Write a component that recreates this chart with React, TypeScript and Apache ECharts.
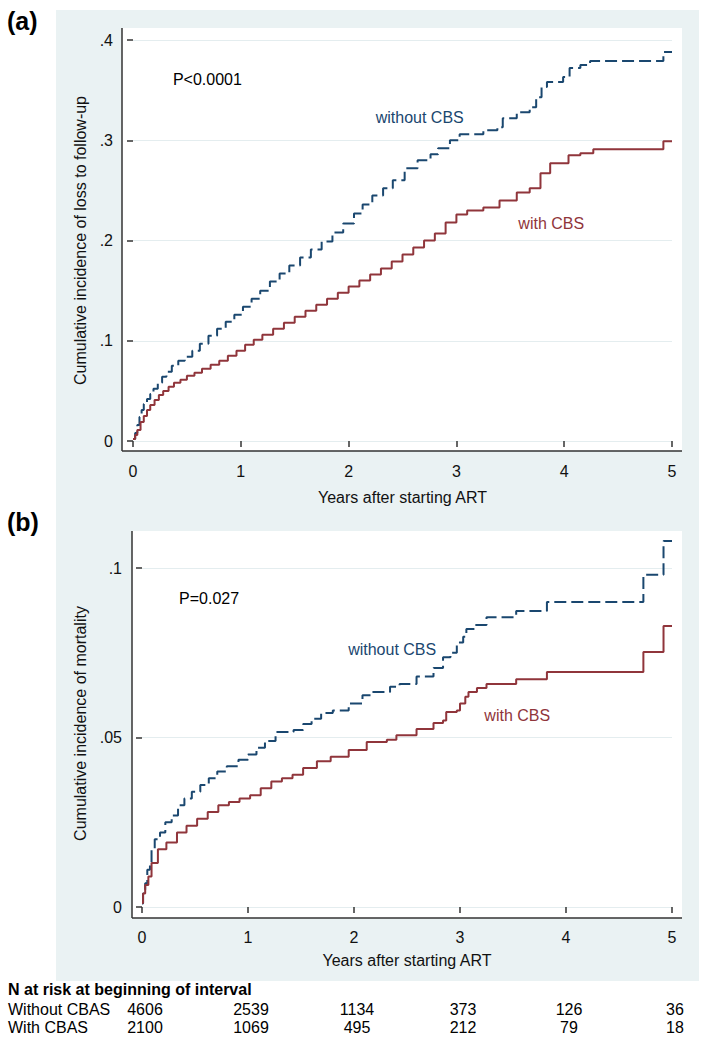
import React, { useEffect, useRef } from 'react';
import * as echarts from 'echarts';

// ---------- data ----------
const xTicks = [0, 1, 2, 3, 4, 5];
const xTickLabels = ['0', '1', '2', '3', '4', '5'];
const yTickLabelsA = ['0', '.1', '.2', '.3', '.4'];
const yTickLabelsB = ['0', '.05', '.1'];

// (a) loss to follow-up
const timeAWithout = [0, 0.02, 0.04, 0.06, 0.08, 0.1, 0.13, 0.16, 0.19, 0.23, 0.27, 0.31, 0.36, 0.42, 0.48, 0.55, 0.62, 0.7, 0.78, 0.86, 0.94, 1.02, 1.1, 1.18, 1.27, 1.36, 1.45, 1.55, 1.65, 1.75, 1.85, 1.95, 2.05, 2.13, 2.22, 2.32, 2.41, 2.52, 2.64, 2.76, 2.83, 2.94, 3.03, 3.25, 3.38, 3.43, 3.56, 3.68, 3.74, 3.79, 3.84, 3.99, 4.05, 4.15, 4.24, 4.92, 5.0];
const incAWithout = [0.002, 0.008, 0.016, 0.024, 0.031, 0.037, 0.042, 0.047, 0.052, 0.058, 0.064, 0.069, 0.075, 0.08, 0.084, 0.09, 0.097, 0.105, 0.112, 0.119, 0.126, 0.134, 0.142, 0.15, 0.159, 0.167, 0.175, 0.183, 0.191, 0.199, 0.208, 0.217, 0.227, 0.236, 0.245, 0.252, 0.26, 0.272, 0.28, 0.286, 0.292, 0.3, 0.306, 0.31, 0.313, 0.322, 0.328, 0.333, 0.343, 0.353, 0.358, 0.363, 0.372, 0.375, 0.379, 0.388, 0.388];
const timeAWith = [0, 0.02, 0.04, 0.07, 0.1, 0.13, 0.16, 0.2, 0.24, 0.28, 0.33, 0.38, 0.44, 0.5, 0.57, 0.64, 0.72, 0.8, 0.88, 0.96, 1.04, 1.12, 1.2, 1.3, 1.4, 1.5, 1.6, 1.7, 1.8, 1.9, 2.0, 2.1, 2.2, 2.3, 2.4, 2.5, 2.6, 2.7, 2.8, 2.9, 3.0, 3.1, 3.25, 3.4, 3.56, 3.68, 3.78, 3.87, 4.04, 4.15, 4.27, 4.92, 5.0];
const incAWith = [0.002, 0.006, 0.011, 0.019, 0.025, 0.031, 0.036, 0.041, 0.046, 0.05, 0.054, 0.058, 0.061, 0.065, 0.068, 0.072, 0.076, 0.08, 0.085, 0.09, 0.096, 0.101, 0.106, 0.112, 0.118, 0.124, 0.13, 0.136, 0.142, 0.148, 0.154, 0.16, 0.166, 0.172, 0.179, 0.186, 0.193, 0.2, 0.207, 0.218, 0.226, 0.23, 0.233, 0.24, 0.248, 0.252, 0.267, 0.277, 0.285, 0.287, 0.291, 0.299, 0.299];

// (b) mortality
const timeBWithout = [0, 0.01, 0.03, 0.05, 0.075, 0.09, 0.12, 0.17, 0.22, 0.28, 0.34, 0.4, 0.47, 0.55, 0.63, 0.71, 0.8, 0.91, 1.0, 1.08, 1.16, 1.26, 1.43, 1.52, 1.6, 1.69, 1.8, 1.95, 2.08, 2.17, 2.34, 2.43, 2.59, 2.75, 2.84, 2.91, 2.97, 3.03, 3.06, 3.14, 3.25, 3.53, 3.82, 4.73, 4.92, 5.0];
const incBWithout = [0.001, 0.004, 0.007, 0.011, 0.013, 0.0168, 0.02, 0.022, 0.025, 0.027, 0.03, 0.032, 0.034, 0.036, 0.038, 0.04, 0.0415, 0.0434, 0.045, 0.047, 0.049, 0.0516, 0.0522, 0.054, 0.0555, 0.0572, 0.058, 0.06, 0.0625, 0.0634, 0.065, 0.0658, 0.068, 0.0705, 0.0737, 0.075, 0.078, 0.0797, 0.082, 0.0832, 0.0855, 0.0873, 0.09, 0.098, 0.108, 0.108];
const timeBWith = [0, 0.01, 0.03, 0.06, 0.09, 0.15, 0.23, 0.33, 0.42, 0.52, 0.62, 0.72, 0.82, 0.92, 1.02, 1.12, 1.22, 1.32, 1.42, 1.52, 1.65, 1.78, 1.95, 2.12, 2.31, 2.4, 2.59, 2.75, 2.84, 2.87, 2.97, 3.0, 3.05, 3.08, 3.16, 3.25, 3.53, 3.82, 4.73, 4.92, 5.0];
const incBWith = [0.0012, 0.004, 0.0065, 0.009, 0.013, 0.017, 0.019, 0.022, 0.024, 0.026, 0.028, 0.03, 0.031, 0.032, 0.033, 0.035, 0.037, 0.038, 0.039, 0.041, 0.043, 0.0443, 0.0463, 0.0487, 0.0493, 0.0507, 0.0525, 0.0543, 0.055, 0.0575, 0.058, 0.06, 0.062, 0.0634, 0.0646, 0.0658, 0.0672, 0.0693, 0.0752, 0.0829, 0.0829];

// annotations [x, y] in data units
const annotA = [
  { text: 'P<0.0001', at: [0.37, 0.361], color: '#000000', align: 'left' },
  { text: 'without CBS', at: [2.66, 0.323], color: '#1a476f', align: 'center' },
  { text: 'with CBS', at: [3.88, 0.217], color: '#90353b', align: 'center' },
];
const annotB = [
  { text: 'P=0.027', at: [0.35, 0.0911], color: '#000000', align: 'left' },
  { text: 'without CBS', at: [2.36, 0.0761], color: '#1a476f', align: 'center' },
  { text: 'with CBS', at: [3.54, 0.0566], color: '#90353b', align: 'center' },
];

// risk table
const riskTitle = 'N at risk at beginning of interval';
const riskRowLabels = ['Without CBAS', 'With CBAS'];
const riskWithout = [4606, 2539, 1134, 373, 126, 36];
const riskWith = [2100, 1069, 495, 212, 79, 18];

// ---------- styles ----------
const FONT = "'Liberation Sans', Arial, Helvetica, sans-serif";
const NAVY = '#1a476f';
const MAROON = '#90353b';
const BG = '#eaf2f3';
const AXIS = '#333333';
const TXT = '#111111';

const zip = (xs: number[], ys: number[]) => xs.map((x, i) => [x, ys[i]]);

export default function App() {
  const ref = useRef<HTMLDivElement>(null);

  useEffect(() => {
    if (!ref.current) return;
    const chart = echarts.init(ref.current, undefined, { renderer: 'svg' });

    const tickLabel = { fontSize: 16, color: TXT, fontFamily: FONT };
    const nameStyle = { fontSize: 16, color: TXT, fontFamily: FONT };
    const tick = { show: true, length: 6, lineStyle: { color: AXIS, width: 1.5 } };
    const split = { show: true, lineStyle: { color: '#e4edef', width: 1 } };

    const baseGraphics: any[] = [
      { type: 'rect', z: 0, shape: { x: 56, y: 10, width: 643, height: 971 }, style: { fill: BG } },
      { type: 'rect', z: 1, shape: { x: 122, y: 28, width: 560, height: 423 }, style: { fill: '#ffffff' } },
      { type: 'rect', z: 1, shape: { x: 132, y: 531, width: 550, height: 387 }, style: { fill: '#ffffff' } },
      { type: 'line', z: 5, shape: { x1: 122, y1: 28, x2: 122, y2: 451 }, style: { stroke: AXIS, lineWidth: 1.5 } },
      { type: 'line', z: 5, shape: { x1: 122, y1: 451, x2: 682, y2: 451 }, style: { stroke: AXIS, lineWidth: 1.5 } },
      { type: 'line', z: 5, shape: { x1: 132, y1: 531, x2: 132, y2: 918 }, style: { stroke: AXIS, lineWidth: 1.5 } },
      { type: 'line', z: 5, shape: { x1: 132, y1: 918, x2: 682, y2: 918 }, style: { stroke: AXIS, lineWidth: 1.5 } },
      { type: 'text', z: 10, left: 7, top: 8, style: { text: '(a)', font: `bold 25px ${FONT}`, fill: '#000' } },
      { type: 'text', z: 10, left: 7, top: 509, style: { text: '(b)', font: `bold 25px ${FONT}`, fill: '#000' } },
    ];

    const option: any = {
      animation: false,
      backgroundColor: '#ffffff',
      grid: [
        { left: 133, right: 37, top: 40, height: 401 },
        { left: 142, right: 37, top: 568, height: 339 },
      ],
      xAxis: [
        {
          gridIndex: 0, type: 'value', min: 0, max: 5, interval: 1, offset: 10, z: 3,
          axisLine: { show: false }, axisTick: tick, splitLine: { show: false },
          axisLabel: { ...tickLabel, margin: 12, formatter: (v: number) => xTickLabels[Math.round(v)] ?? '' },
          name: 'Years after starting ART', nameLocation: 'middle', nameGap: 38, nameTextStyle: nameStyle,
        },
        {
          gridIndex: 1, type: 'value', min: 0, max: 5, interval: 1, offset: 11, z: 3,
          axisLine: { show: false }, axisTick: tick, splitLine: { show: false },
          axisLabel: { ...tickLabel, margin: 11, formatter: (v: number) => xTickLabels[Math.round(v)] ?? '' },
          name: 'Years after starting ART', nameLocation: 'middle', nameGap: 34, nameTextStyle: nameStyle,
        },
      ],
      yAxis: [
        {
          gridIndex: 0, type: 'value', min: 0, max: 0.4, interval: 0.1, offset: 11, z: 3,
          axisLine: { show: false }, axisTick: tick, splitLine: split,
          axisLabel: { ...tickLabel, margin: 9, formatter: (v: number) => yTickLabelsA[Math.round(v / 0.1)] ?? '' },
          name: 'Cumulative incidence of loss to follow-up', nameLocation: 'middle', nameGap: 30, nameTextStyle: nameStyle,
        },
        {
          gridIndex: 1, type: 'value', min: 0, max: 0.1, interval: 0.05, offset: 10, z: 3,
          axisLine: { show: false }, axisTick: tick, splitLine: split,
          axisLabel: { ...tickLabel, margin: 10, formatter: (v: number) => yTickLabelsB[Math.round(v / 0.05)] ?? '' },
          name: 'Cumulative incidence of mortality', nameLocation: 'middle', nameGap: 38,
          nameTextStyle: { ...nameStyle, padding: [0, 0, 0, 28] },
        },
      ],
      series: [
        { type: 'line', xAxisIndex: 0, yAxisIndex: 0, step: 'end', symbol: 'none', clip: false, z: 4, silent: true,
          data: zip(timeAWithout, incAWithout), lineStyle: { color: NAVY, width: 2, type: [12, 5] } },
        { type: 'line', xAxisIndex: 0, yAxisIndex: 0, step: 'end', symbol: 'none', clip: false, z: 4, silent: true,
          data: zip(timeAWith, incAWith), lineStyle: { color: MAROON, width: 2 } },
        { type: 'line', xAxisIndex: 1, yAxisIndex: 1, step: 'end', symbol: 'none', clip: false, z: 4, silent: true,
          data: zip(timeBWithout, incBWithout), lineStyle: { color: NAVY, width: 2, type: [12, 5] } },
        { type: 'line', xAxisIndex: 1, yAxisIndex: 1, step: 'end', symbol: 'none', clip: false, z: 4, silent: true,
          data: zip(timeBWith, incBWith), lineStyle: { color: MAROON, width: 2 } },
      ],
      graphic: { elements: baseGraphics },
    };

    chart.setOption(option);

    const extra: any[] = [];
    const addAnnots = (list: any[], grid: number) => {
      list.forEach((a) => {
        const p = chart.convertToPixel({ xAxisIndex: grid, yAxisIndex: grid }, a.at) as number[];
        extra.push({
          type: 'text', z: 10, x: p[0], y: p[1],
          style: { text: a.text, font: `16px ${FONT}`, fill: a.color, align: a.align, verticalAlign: 'middle' },
        });
      });
    };
    addAnnots(annotA, 0);
    addAnnots(annotB, 1);

    extra.push({ type: 'text', z: 10, x: 8, y: 989, style: { text: riskTitle, font: `bold 16px ${FONT}`, fill: '#000', verticalAlign: 'middle' } });
    const rows = [riskWithout, riskWith];
    const rowY = [1009, 1027];
    rows.forEach((row, r) => {
      extra.push({ type: 'text', z: 10, x: 8, y: rowY[r], style: { text: riskRowLabels[r], font: `16px ${FONT}`, fill: '#000', verticalAlign: 'middle' } });
      row.forEach((n, i) => {
        const px = (chart.convertToPixel({ xAxisIndex: 1, yAxisIndex: 1 }, [xTicks[i], 0]) as number[])[0] + 3;
        extra.push({ type: 'text', z: 10, x: px, y: rowY[r], style: { text: String(n), font: `16px ${FONT}`, fill: '#000', align: 'center', verticalAlign: 'middle' } });
      });
    });

    chart.setOption({ graphic: { elements: [...baseGraphics, ...extra] } });

    return () => chart.dispose();
  }, []);

  return <div ref={ref} style={{ position: 'absolute', left: 0, top: 0, width: 709, height: 1041 }} />;
}
